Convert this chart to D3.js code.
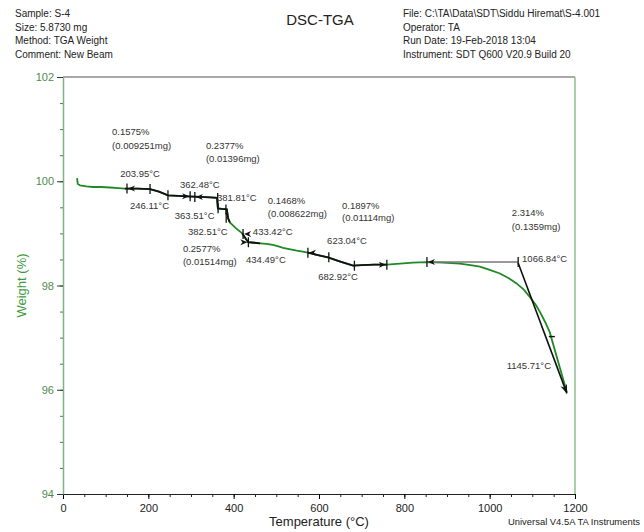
<!DOCTYPE html>
<html>
<head>
<meta charset="utf-8">
<script src="https://cdn.jsdelivr.net/npm/d3@7"></script>
<style>
  body { margin: 0; background: #fff; }
  svg { font-family: 'Liberation Sans', Arial, sans-serif; }
  .hdr { font-size: 10px; fill: #222; }
  .note { font-size: 9.5px; fill: #333; }
</style>
</head>
<body>
<div id="tga-chart"></div>
<script>
(function(d3) {
  'use strict';

  // header texts
  var headerLeft = ['Sample: S-4', 'Size:  5.8730 mg', 'Method: TGA Weight', 'Comment: New Beam'];
  var headerRight = ['File: C:\\TA\\Data\\SDT\\Siddu Hiremat\\S-4.001', 'Operator: TA',
    'Run Date: 19-Feb-2018 13:04', 'Instrument: SDT Q600 V20.9 Build 20'];

  var xTicks = [0, 200, 400, 600, 800, 1000, 1200];
  var yTicks = [94, 96, 98, 100, 102];

  // TGA curve
  var temperature = [33, 34.5, 40, 55, 70, 90, 110, 130, 145, 175, 204, 225, 246, 270, 291, 320, 345, 361,
    363, 372, 384, 387, 391, 405, 420, 428, 434, 448, 462, 477, 492, 505, 516, 530, 548, 562, 574, 600, 621,
    650, 680, 700, 730, 759, 790, 820, 853, 890, 930, 955, 977, 1000, 1024, 1045, 1063, 1080, 1095, 1108,
    1118, 1130, 1141, 1160, 1181];
  var weight = [100.06, 99.95, 99.92, 99.9, 99.89, 99.89, 99.88, 99.87, 99.86, 99.86, 99.85, 99.8, 99.73,
    99.72, 99.71, 99.7, 99.69, 99.68, 99.48, 99.47, 99.46, 99.29, 99.21, 99.1, 99.0, 98.9, 98.83, 98.82,
    98.81, 98.8, 98.78, 98.75, 98.72, 98.7, 98.67, 98.65, 98.63, 98.58, 98.54, 98.46, 98.38, 98.39, 98.4,
    98.4, 98.42, 98.44, 98.45, 98.44, 98.42, 98.39, 98.36, 98.3, 98.23, 98.14, 98.04, 97.92, 97.77, 97.63,
    97.49, 97.3, 97.1, 96.55, 95.95];

  // analysis overlays (temperature ranges drawn in black over the curve)
  var overlayRanges = [[145, 391], [420, 462], [574, 759]];

  // cursor marks on the curve
  var markT = [150, 204, 246, 298, 309, 362.5, 363.5, 381.8, 382.5, 422, 434.5, 574, 623, 683, 759, 853, 1066.8];
  var markW = [99.86, 99.85, 99.73, 99.71, 99.7, 99.68, 99.48, 99.46, 99.3, 98.99, 98.83, 98.63, 98.54,
    98.38, 98.4, 98.45, 98.45];
  var markArrow = ['left', null, null, 'right', 'left', null, null, null, null, 'left', 'right', 'left',
    null, null, 'right', 'left', null];

  // residue step: horizontal baseline and tangent line
  var baseT = [853, 1066.8], baseW = 98.45;
  var tangentT = [1066.8, 1181], tangentW = [98.43, 95.93];
  var tangentMarkT = 1145.7, tangentMarkW = 97.02;

  // annotation texts
  var noteText = ['0.1575%', '(0.009251mg)', '0.2377%', '(0.01396mg)', '203.95°C', '246.11°C', '362.48°C',
    '381.81°C', '363.51°C', '382.51°C', '433.42°C', '434.49°C', '0.2577%', '(0.01514mg)', '0.1468%',
    '(0.008622mg)', '0.1897%', '(0.01114mg)', '623.04°C', '682.92°C', '2.314%', '(0.1359mg)',
    '1066.84°C', '1145.71°C'];
  var noteT = [115, 115, 335, 335, 134, 157, 274, 361, 262, 293, 445, 429, 281, 281, 480, 480, 654, 654,
    619, 598, 1052, 1052, 1076, 1040];
  var noteW = [100.885, 100.615, 100.615, 100.365, 100.077, 99.46, 99.865, 99.63, 99.27, 98.96, 98.96,
    98.44, 98.65, 98.4, 99.56, 99.31, 99.46, 99.23, 98.79, 98.1, 99.33, 99.06, 98.46, 96.4];

  var width = 644, height = 532;
  var x0 = 63, x1 = 575, y0 = 77, y1 = 494;

  var svg = d3.select('#tga-chart').append('svg')
    .attr('width', width)
    .attr('height', height);

  var x = d3.scaleLinear().domain([0, 1200]).range([x0, x1]);
  var y = d3.scaleLinear().domain([94, 102]).range([y1, y0]);

  // header
  svg.selectAll('text.hl').data(headerLeft).enter().append('text')
    .attr('class', 'hdr hl')
    .attr('x', 15)
    .attr('y', function(d, i) { return 17 + i * 13.6; })
    .text(function(d) { return d; });

  svg.selectAll('text.hr').data(headerRight).enter().append('text')
    .attr('class', 'hdr hr')
    .attr('x', 403)
    .attr('y', function(d, i) { return 17 + i * 13.6; })
    .text(function(d) { return d; });

  svg.append('text')
    .attr('x', 320).attr('y', 25)
    .attr('text-anchor', 'middle')
    .style('font-size', '15px').style('fill', '#222')
    .text('DSC-TGA');

  // frame
  svg.append('line')
    .attr('x1', x0).attr('x2', x1).attr('y1', y0).attr('y2', y0)
    .attr('stroke', '#555').attr('stroke-width', 1.2);
  svg.append('line')
    .attr('x1', x1).attr('x2', x1).attr('y1', y0).attr('y2', y1)
    .attr('stroke', '#8fbf8f').attr('stroke-width', 1.5);

  // x axis
  var xMinor = svg.append('g').attr('transform', 'translate(0,' + y1 + ')')
    .call(d3.axisBottom(x).tickValues(d3.range(0, 1201, 50)).tickSize(3).tickFormat(''));
  xMinor.select('.domain').remove();
  xMinor.selectAll('line').attr('stroke', '#222');

  var xAxis = svg.append('g').attr('transform', 'translate(0,' + y1 + ')')
    .call(d3.axisBottom(x).tickValues(xTicks).tickSize(5).tickSizeOuter(0).tickFormat(d3.format('d')));
  xAxis.select('.domain').attr('stroke', '#222').attr('stroke-width', 1.2);
  xAxis.selectAll('text')
    .style('font-size', '11px').style('font-family', 'Liberation Sans, Arial, sans-serif')
    .attr('fill', '#222').attr('dy', '0.95em');

  // y axis
  var yMinor = svg.append('g').attr('transform', 'translate(' + x0 + ',0)')
    .call(d3.axisLeft(y).tickValues(d3.range(94, 102.01, 0.5)).tickSize(3).tickFormat(''));
  yMinor.select('.domain').remove();
  yMinor.selectAll('line').attr('stroke', '#4a7a4a');

  var yAxis = svg.append('g').attr('transform', 'translate(' + x0 + ',0)')
    .call(d3.axisLeft(y).tickValues(yTicks).tickSize(6).tickSizeOuter(0));
  yAxis.select('.domain').attr('stroke', '#7fb37f').attr('stroke-width', 1.5);
  yAxis.selectAll('line').attr('stroke', '#333');
  yAxis.selectAll('text')
    .style('font-size', '11px').style('font-family', 'Liberation Sans, Arial, sans-serif')
    .attr('fill', '#4f8a4f');

  // axis titles
  svg.append('text')
    .attr('transform', 'translate(26,' + ((y0 + y1) / 2) + ') rotate(-90)')
    .attr('text-anchor', 'middle')
    .style('font-size', '13px').style('fill', '#3f9a3f')
    .text('Weight (%)');

  svg.append('text')
    .attr('x', (x0 + x1) / 2).attr('y', 526)
    .attr('text-anchor', 'middle')
    .style('font-size', '13px').style('fill', '#222')
    .text('Temperature (°C)');

  svg.append('text')
    .attr('x', 508).attr('y', 525)
    .attr('textLength', 132).attr('lengthAdjust', 'spacingAndGlyphs')
    .style('font-size', '9px').style('fill', '#222')
    .text('Universal V4.5A TA Instruments');

  // curve
  var pts = temperature.map(function(t, i) { return [t, weight[i]]; });
  var line = d3.line()
    .x(function(d) { return x(d[0]); })
    .y(function(d) { return y(d[1]); });

  svg.append('path')
    .attr('d', line(pts))
    .attr('fill', 'none')
    .attr('stroke', '#1f8a24')
    .attr('stroke-width', 1.8);

  // black overlays
  overlayRanges.forEach(function(r) {
    var seg = pts.filter(function(p) { return p[0] >= r[0] && p[0] <= r[1]; });
    svg.append('path')
      .attr('d', line(seg))
      .attr('fill', 'none')
      .attr('stroke', '#111')
      .attr('stroke-width', 1.8);
  });

  // baseline + tangent
  svg.append('line')
    .attr('x1', x(baseT[0])).attr('x2', x(baseT[1]))
    .attr('y1', y(baseW)).attr('y2', y(baseW))
    .attr('stroke', '#777').attr('stroke-width', 1.6);

  var tx1 = x(tangentT[0]), ty1 = y(tangentW[0]), tx2 = x(tangentT[1]), ty2 = y(tangentW[1]);
  svg.append('line')
    .attr('x1', tx1).attr('y1', ty1).attr('x2', tx2).attr('y2', ty2)
    .attr('stroke', '#111').attr('stroke-width', 1.6);
  var ang = Math.atan2(ty2 - ty1, tx2 - tx1) * 180 / Math.PI;
  svg.append('path')
    .attr('d', 'M0,0 L-9,-3.5 L-6,0 L-9,3.5 Z')
    .attr('transform', 'translate(' + tx2 + ',' + ty2 + ') rotate(' + ang + ')')
    .attr('fill', '#111');
  svg.append('line')
    .attr('x1', x(tangentMarkT) - 3).attr('x2', x(tangentMarkT) + 3)
    .attr('y1', y(tangentMarkW)).attr('y2', y(tangentMarkW))
    .attr('stroke', '#111').attr('stroke-width', 1.4);

  // cursor marks
  var marks = svg.append('g');
  markT.forEach(function(t, i) {
    var mx = x(t), my = y(markW[i]);
    marks.append('line')
      .attr('x1', mx).attr('x2', mx).attr('y1', my - 5).attr('y2', my + 5)
      .attr('stroke', '#111').attr('stroke-width', 1.3);
    if (markArrow[i] === 'left') {
      marks.append('path')
        .attr('d', 'M' + (mx + 1) + ',' + my + ' L' + (mx + 8) + ',' + (my - 3) + ' L' + (mx + 6) + ',' + my +
          ' L' + (mx + 8) + ',' + (my + 3) + ' Z')
        .attr('fill', '#111');
    } else if (markArrow[i] === 'right') {
      marks.append('path')
        .attr('d', 'M' + (mx - 1) + ',' + my + ' L' + (mx - 8) + ',' + (my - 3) + ' L' + (mx - 6) + ',' + my +
          ' L' + (mx - 8) + ',' + (my + 3) + ' Z')
        .attr('fill', '#111');
    }
  });

  // annotation labels
  svg.selectAll('text.note').data(noteText).enter().append('text')
    .attr('class', 'note')
    .attr('x', function(d, i) { return x(noteT[i]); })
    .attr('y', function(d, i) { return y(noteW[i]); })
    .text(function(d) { return d; });
}(d3));
</script>
</body>
</html>
